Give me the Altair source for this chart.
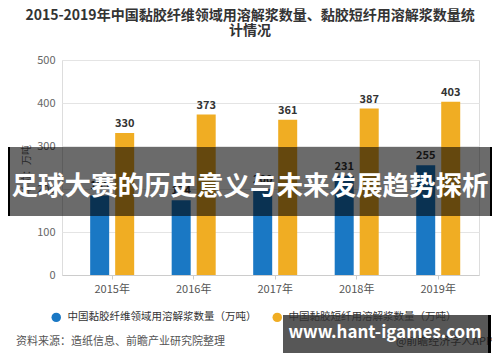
import altair as alt
import pandas as pd

years = ["2015年", "2016年", "2017年", "2018年", "2019年"]
series = ["中国黏胶纤维领域用溶解浆数量（万吨）", "中国黏胶短纤用溶解浆数量（万吨）"]
fiber_vals = [185, 174, 200, 231, 255]
short_vals = [330, 373, 361, 387, 403]
title_lines = ["2015-2019年中国黏胶纤维领域用溶解浆数量、黏胶短纤用溶解浆数量统", "计情况"]
y_title = "单位：万吨"
source_text = "资料来源：造纸信息、前瞻产业研究院整理"
brand_text = "@前瞻经济学人APP"
banner_text = "足球大赛的历史意义与未来发展趋势探析"
wm_text = "www.hant-igames.com"

rows = []
for i, y in enumerate(years):
    rows.append({"year": y, "series": series[0], "value": fiber_vals[i]})
    rows.append({"year": y, "series": series[1], "value": short_vals[i]})
df = pd.DataFrame(rows)

FONT = "Noto Sans CJK SC"
BLUE = "#1a78c4"
ORANGE = "#f0ad23"

x_enc = alt.X("year:N", sort=years,
              scale=alt.Scale(paddingInner=0.46, paddingOuter=0.288, align=0.6),
              axis=alt.Axis(title=None, labelAngle=0, grid=False, domainColor="#cccccc",
                            tickColor="#cccccc", tickSize=4, labelColor="#555555",
                            labelFontSize=11, labelPadding=4, labelFont=FONT))
y_enc = alt.Y("value:Q", scale=alt.Scale(domain=[0, 500], nice=False),
              axis=alt.Axis(title=None, values=[0, 100, 200, 300, 400, 500], domain=False,
                            ticks=False, gridColor="#e4e4e4", labelColor="#666666",
                            labelFontSize=11, labelPadding=7, labelFont=FONT))
xoff = alt.XOffset("series:N", sort=series, scale=alt.Scale(paddingInner=0.24))
color = alt.Color("series:N", sort=series,
                  scale=alt.Scale(domain=series, range=[BLUE, ORANGE]),
                  legend=alt.Legend(title=None, orient="none", legendX=-11, legendY=252,
                                    direction="horizontal", symbolType="circle",
                                    symbolSize=90, symbolStrokeWidth=0, labelFontSize=10.5,
                                    labelColor="#333333", labelFont=FONT, labelOffset=6,
                                    columnPadding=15, labelLimit=400))

bars = alt.Chart(df).mark_bar().encode(x=x_enc, y=y_enc, xOffset=xoff, color=color)
labels = alt.Chart(df).mark_text(baseline="bottom", dy=-4, fontSize=11, fontWeight="bold",
                                 color="#333333", font=FONT).encode(
    x=alt.X("year:N", sort=years), y="value:Q", xOffset=xoff, text="value:Q")

one = pd.DataFrame({"k": [0]})

def txt(text, x, y, **kw):
    return alt.Chart(one).mark_text(text=text, font=FONT, **kw).encode(
        x=alt.value(x), y=alt.value(y))

def box(x1, x2, y1, y2, fill, opacity):
    return alt.Chart(one).mark_rect(color=fill, opacity=opacity).encode(
        x=alt.value(x1), x2=alt.value(x2), y=alt.value(y1), y2=alt.value(y2))

t1 = txt(title_lines[0], 188, -44, fontSize=14, fontWeight="bold", color="#333333", align="center", baseline="middle")
t2 = txt(title_lines[1], 188, -29, fontSize=14, fontWeight="bold", color="#333333", align="center", baseline="middle")
yt = txt(y_title, -35, 110, fontSize=10, color="#666666", angle=270, align="center", baseline="middle")
src = txt(source_text, -46, 282, fontSize=11, color="#555555", align="left", baseline="middle")
brand = txt(brand_text, 431, 282, fontSize=11, color="#777777", align="right", baseline="middle")

banner = box(-55, 431, 87, 156, "#000000", 0.58)
bl = box(-55, -52, 87, 156, "#000000", 1)
br = box(428, 431, 87, 156, "#000000", 1)
btxt = txt(banner_text, 188, 127, fontSize=26.5, fontWeight="bold", color="#ffffff", align="center", baseline="middle")

wm = box(221, 428, 255, 293, "#000000", 0.66)
wmr = box(426, 429, 255, 293, "#000000", 1)
wmt = txt(wm_text, 323, 273, fontSize=17, fontWeight="bold", color="#ffffff", align="center", baseline="middle")

chart = alt.layer(bars, labels, t1, t2, yt, src, brand, banner, bl, br, btxt, wm, wmr, wmt).properties(
    width=417, height=215,
    padding={"left": 54, "top": 52, "right": 13, "bottom": 79},
    autosize=alt.AutoSizeParams(type="none"),
).configure_view(stroke=None).configure(background="#ffffff")

chart.save("out.html", embed_options={"renderer": "svg", "actions": False})
